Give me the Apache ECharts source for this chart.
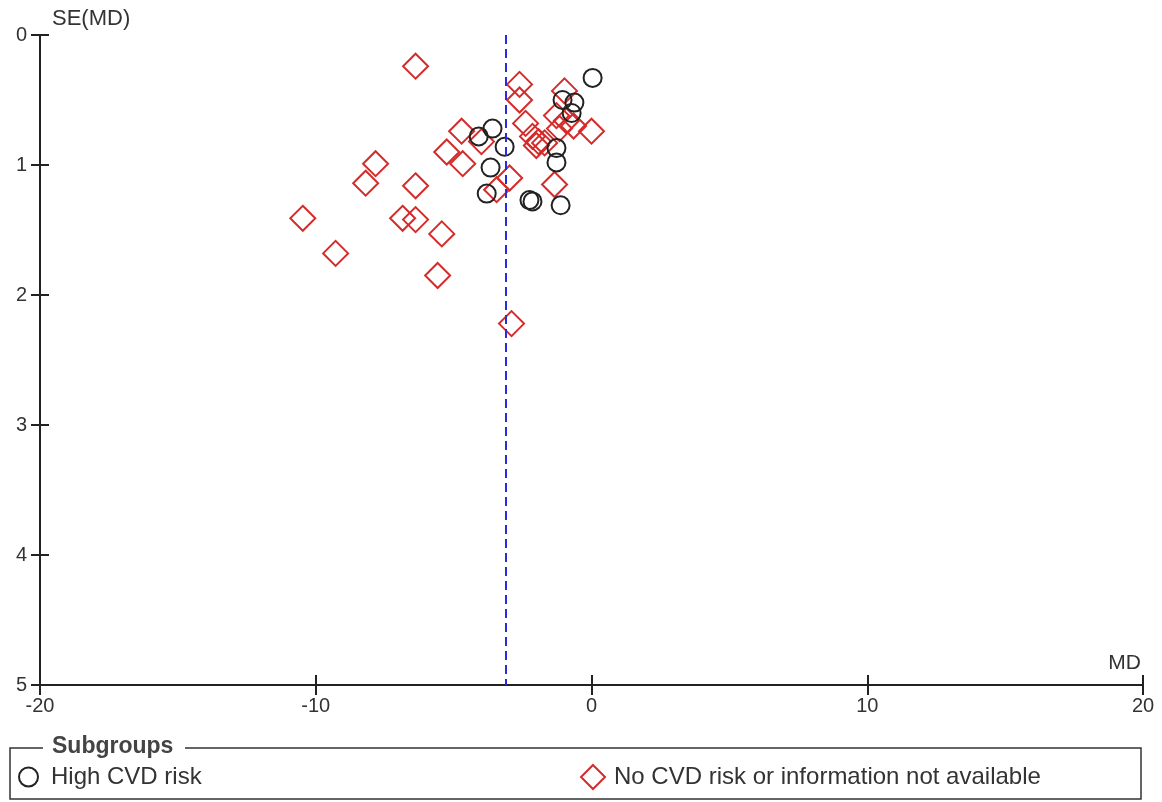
<!DOCTYPE html>
<html>
<head>
<meta charset="utf-8">
<title>Funnel plot</title>
<script src="https://cdn.jsdelivr.net/npm/echarts@6/dist/echarts.min.js"></script>
<style>
  html, body { margin: 0; padding: 0; background: #fff; }
  #chart { width: 1162px; height: 802px; }
</style>
</head>
<body>
<div id="chart"></div>
<script>
// Funnel plot: mean difference (MD) against its standard error, by subgroup.

// High CVD risk studies
const highMD = [0.04, -1.05, -0.62, -0.72, -3.59, -4.09, -3.15, -1.27, -1.27, -3.66, -3.80, -2.25, -2.14, -1.12];
const highSE = [0.33, 0.50, 0.52, 0.60, 0.72, 0.78, 0.86, 0.87, 0.98, 1.02, 1.22, 1.27, 1.28, 1.31];

// No CVD risk or information not available
const noneMD = [-6.38, -2.61, -2.61, -0.98, -4.71, -2.39, -5.25, -4.67, -7.83, -8.19, -6.38,
                -10.47, -6.85, -6.38, -5.43, -9.28, -5.58, -2.90, -2.97, -3.44, -1.34, 0.00,
                -3.99, -1.27, -0.91, -0.65, -1.16, -2.14, -1.92, -2.00, -1.70];
const noneSE = [0.24, 0.38, 0.50, 0.43, 0.74, 0.68, 0.90, 0.99, 0.99, 1.14, 1.16,
                1.41, 1.41, 1.42, 1.53, 1.68, 1.85, 2.22, 1.10, 1.19, 1.15, 0.74,
                0.82, 0.62, 0.66, 0.70, 0.72, 0.78, 0.82, 0.85, 0.83];

// Pooled mean difference
const pooledMD = -3.1;

// Axis ranges and tick labels
const xTicks = [-20, -10, 0, 10, 20];
const yTicks = [0, 1, 2, 3, 4, 5];
const groupNames = ['High CVD risk', 'No CVD risk or information not available'];

const FONT = '"Liberation Sans", Arial, sans-serif';
const AXIS = '#222';
const RED = '#d42b2b';
const BLACK = '#222';

const zip = (a, b) => a.map((v, i) => [v, b[i]]);

const xBase = {
  type: 'value', min: xTicks[0], max: xTicks[xTicks.length - 1], interval: 10,
  splitLine: { show: false }
};
const yBase = {
  type: 'value', inverse: true, min: yTicks[0], max: yTicks[yTicks.length - 1], interval: 1,
  splitLine: { show: false }
};

const chart = echarts.init(document.getElementById('chart'), null, { renderer: 'canvas' });

chart.setOption({
  backgroundColor: '#fff',
  animation: false,
  textStyle: { fontFamily: FONT },
  grid: { left: 40, right: 19, top: 35, bottom: 117, containLabel: false },
  xAxis: [
    Object.assign({}, xBase, {
      position: 'bottom',
      axisLine: { show: true, onZero: false, lineStyle: { color: AXIS, width: 2 } },
      axisTick: { show: true, inside: false, length: 10, lineStyle: { color: AXIS, width: 2 } },
      axisLabel: { show: true, margin: 11, color: '#333', fontSize: 20, fontFamily: FONT }
    }),
    Object.assign({}, xBase, {
      position: 'bottom',
      axisLine: { show: false, onZero: false },
      axisTick: { show: true, inside: true, length: 10, lineStyle: { color: AXIS, width: 2 } },
      axisLabel: { show: false }
    })
  ],
  yAxis: [
    Object.assign({}, yBase, {
      position: 'left',
      axisLine: { show: true, onZero: false, lineStyle: { color: AXIS, width: 2 } },
      axisTick: { show: true, inside: false, length: 9, lineStyle: { color: AXIS, width: 2 } },
      axisLabel: { show: true, margin: 13, color: '#333', fontSize: 20, fontFamily: FONT }
    }),
    Object.assign({}, yBase, {
      position: 'left',
      axisLine: { show: false, onZero: false },
      axisTick: { show: true, inside: true, length: 9, lineStyle: { color: AXIS, width: 2 } },
      axisLabel: { show: false }
    })
  ],
  legend: [
    {
      left: 18, top: 765, itemWidth: 19, itemHeight: 19, itemGap: 10, padding: 0,
      textStyle: { fontSize: 24, color: '#333', fontFamily: FONT, padding: [0, 0, 0, 8] },
      data: [{ name: groupNames[0], icon: 'circle',
               itemStyle: { color: 'rgba(0,0,0,0)', borderColor: BLACK, borderWidth: 2 } }]
    },
    {
      left: 580, top: 764, itemWidth: 24, itemHeight: 24, itemGap: 10, padding: 0,
      textStyle: { fontSize: 24, color: '#333', fontFamily: FONT, padding: [0, 0, 0, 4] },
      data: [{ name: groupNames[1], icon: 'diamond',
               itemStyle: { color: 'rgba(0,0,0,0)', borderColor: RED, borderWidth: 2 } }]
    }
  ],
  series: [
    {
      name: groupNames[1], type: 'scatter', xAxisIndex: 0, yAxisIndex: 0,
      symbol: 'diamond', symbolSize: [25, 25],
      itemStyle: { color: 'rgba(0,0,0,0)', borderColor: RED, borderWidth: 2, opacity: 1 },
      emphasis: { disabled: true },
      data: zip(noneMD, noneSE),
      z: 3,
      markLine: {
        silent: true, symbol: 'none', animation: false,
        label: { show: false },
        lineStyle: { color: '#2a2ae0', type: [9, 5], width: 2 },
        data: [{ xAxis: pooledMD }]
      }
    },
    {
      name: groupNames[0], type: 'scatter', xAxisIndex: 0, yAxisIndex: 0,
      symbol: 'circle', symbolSize: 18,
      itemStyle: { color: 'rgba(0,0,0,0)', borderColor: BLACK, borderWidth: 2, opacity: 1 },
      emphasis: { disabled: true },
      data: zip(highMD, highSE),
      z: 4
    }
  ],
  graphic: [
    { type: 'text', left: 52, top: 8,
      style: { text: 'SE(MD)', font: '22px ' + FONT, fill: '#333' } },
    { type: 'text', right: 21, top: 653,
      style: { text: 'MD', font: '21px ' + FONT, fill: '#333' } },
    { type: 'rect', shape: { x: 10, y: 748, width: 1131, height: 51 },
      style: { fill: 'none', stroke: '#333', lineWidth: 1.5 } },
    { type: 'rect', shape: { x: 43, y: 740, width: 142, height: 16 },
      style: { fill: '#fff', stroke: 'none' } },
    { type: 'text', left: 52, top: 735,
      style: { text: 'Subgroups', font: 'bold 23px ' + FONT, fill: '#444' } }
  ]
});
</script>
</body>
</html>
